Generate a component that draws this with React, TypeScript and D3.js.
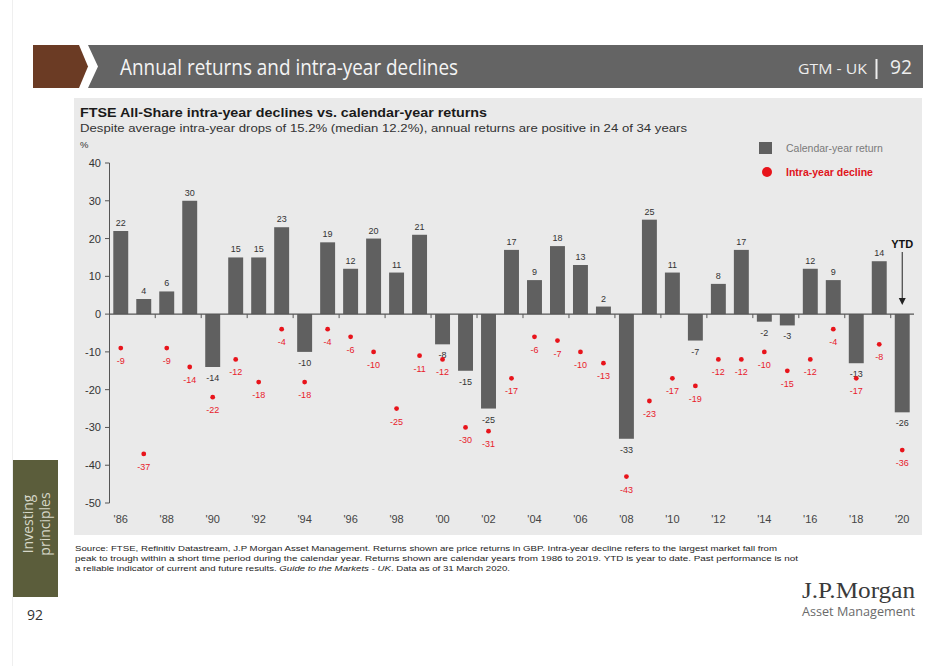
import React from "react";
import * as d3 from "d3";

const years: number[] = d3.range(1986, 2021);
const annualReturns: number[] = [22, 4, 6, 30, -14, 15, 15, 23, -10, 19, 12, 20, 11, 21, -8, -15, -25, 17, 9, 18, 13, 2, -33, 25, 11, -7, 8, 17, -2, -3, 12, 9, -13, 14, -26];
const intraYearDeclines: number[] = [-9, -37, -9, -14, -22, -12, -18, -4, -18, -4, -6, -10, -25, -11, -12, -30, -31, -17, -6, -7, -10, -13, -43, -23, -17, -19, -12, -12, -10, -15, -12, -4, -17, -8, -36];
const yTicks: number[] = [40, 30, 20, 10, 0, -10, -20, -30, -40, -50];
const xTickYears: number[] = d3.range(1986, 2021, 2);

const W = 939;
const H = 666;
const FONT = "'Liberation Sans', Arial, sans-serif";
const HEAD_FONT = "'Open Sans', 'Noto Sans', sans-serif";

export default function App() {
  const x = d3
    .scaleBand<number>()
    .domain(years)
    .range([111, 912])
    .paddingInner(0.35)
    .paddingOuter(0.1);
  const y = d3.scaleLinear().domain([-50, 40]).range([503, 163]);
  const bw = x.bandwidth();
  const cx = (yr: number) => (x(yr) as number) + bw / 2;
  const y0 = y(0);

  return (
    <div style={{ position: "absolute", left: 0, top: 0, width: W, height: H, background: "#fff" }}>
      <svg width={W} height={H} viewBox={`0 0 ${W} ${H}`} style={{ display: "block" }}>
        <rect x={0} y={0} width={W} height={H} fill="#ffffff" />
        <line x1={12.5} x2={12.5} y1={0} y2={H} stroke="#efefef" strokeWidth={1} />

        {/* Header */}
        <path d="M33,45 L79,45 L88,66.5 L79,88 L33,88 Z" fill="#6b3b24" />
        <path d="M88,45 L923,45 L923,88 L88,88 L98,66.5 Z" fill="#646464" />
        <text x={120} y={75} fill="#f4f4f4" fontFamily={HEAD_FONT} fontSize={21} textLength={338} lengthAdjust="spacingAndGlyphs">
          Annual returns and intra-year declines
        </text>
        <text x={798} y={74} fill="#eeeeee" fontFamily={HEAD_FONT} fontSize={15} fontWeight={500} textLength={69} lengthAdjust="spacingAndGlyphs">
          GTM - UK
        </text>
        <line x1={876.5} x2={876.5} y1={59} y2={79} stroke="#eeeeee" strokeWidth={2} />
        <text x={890} y={74} fill="#eeeeee" fontFamily={HEAD_FONT} fontSize={20} textLength={22} lengthAdjust="spacingAndGlyphs">
          92
        </text>

        {/* Panel */}
        <rect x={74} y={98} width={848} height={437} fill="#eaeaea" />
        <text x={80} y={117} fill="#1a1a1a" fontFamily={FONT} fontSize={13} fontWeight={700} textLength={407} lengthAdjust="spacingAndGlyphs">
          FTSE All-Share intra-year declines vs. calendar-year returns
        </text>
        <text x={80} y={132} fill="#333" fontFamily={FONT} fontSize={10} textLength={607} lengthAdjust="spacingAndGlyphs">
          Despite average intra-year drops of 15.2% (median 12.2%), annual returns are positive in 24 of 34 years
        </text>
        <text x={80} y={148} fill="#333" fontFamily={FONT} fontSize={9.5}>%</text>

        {/* Legend */}
        <rect x={759} y={142} width={13} height={12} fill="#606060" />
        <text x={786} y={152} fill="#7a7a7a" fontFamily={FONT} fontSize={10.5}>Calendar-year return</text>
        <circle cx={767} cy={172} r={5} fill="#e8141b" />
        <text x={786} y={176} fill="#e0141b" fontFamily={FONT} fontSize={10.5} fontWeight={700}>Intra-year decline</text>

        {/* Y axis */}
        <line x1={109.5} x2={109.5} y1={y(40)} y2={y(-50)} stroke="#555" strokeWidth={1} />
        {yTicks.map((t) => (
          <g key={t}>
            <line x1={105} x2={109.5} y1={y(t)} y2={y(t)} stroke="#555" strokeWidth={1} />
            <text x={101} y={y(t) + 4} textAnchor="end" fill="#333" fontFamily={FONT} fontSize={11}>
              {t}
            </text>
          </g>
        ))}

        {/* Bars */}
        {years.map((yr, i) => {
          const v = annualReturns[i];
          const top = Math.min(y(v), y0);
          const h = Math.abs(y(v) - y0);
          return <rect key={"b" + yr} x={x(yr)} y={top} width={bw} height={h} fill="#606060" />;
        })}

        {/* Zero line */}
        <line x1={109.5} x2={914} y1={y0} y2={y0} stroke="#555" strokeWidth={1.2} />
        {xTickYears.slice(1).map((yr) => {
          const tx = (x(yr) as number) - (x.step() - bw) / 2;
          return <line key={"t" + yr} x1={tx} x2={tx} y1={y0} y2={y0 + 4} stroke="#555" strokeWidth={1} />;
        })}

        {/* Bar labels */}
        {years.map((yr, i) => {
          const v = annualReturns[i];
          const ly = v >= 0 ? y(v) - 5 : y(v) + 14;
          return (
            <text key={"bl" + yr} x={cx(yr)} y={ly} textAnchor="middle" fill="#333" fontFamily={FONT} fontSize={9}>
              {v}
            </text>
          );
        })}

        {/* Dots */}
        {years.map((yr, i) => {
          const v = intraYearDeclines[i];
          return (
            <g key={"d" + yr}>
              <circle cx={cx(yr)} cy={y(v)} r={2.4} fill="#e8141b" />
              <text x={cx(yr)} y={y(v) + 16} textAnchor="middle" fill="#e8202a" fontFamily={FONT} fontSize={9}>
                {v}
              </text>
            </g>
          );
        })}

        {/* X labels */}
        {xTickYears.map((yr) => (
          <text key={"xl" + yr} x={cx(yr)} y={523} textAnchor="middle" fill="#444" fontFamily={FONT} fontSize={11}>
            {"'" + String(yr).slice(2)}
          </text>
        ))}

        {/* YTD marker */}
        <text x={cx(2020)} y={248} textAnchor="middle" fill="#111" fontFamily={FONT} fontSize={11} fontWeight={700}>
          YTD
        </text>
        <line x1={cx(2020)} x2={cx(2020)} y1={252} y2={299} stroke="#222" strokeWidth={1} />
        <path d={`M${cx(2020) - 3.5},298 L${cx(2020) + 3.5},298 L${cx(2020)},305 Z`} fill="#222" />

        {/* Footer */}
        <text x={75} y={551} fill="#222" fontFamily={FONT} fontSize={7.8} textLength={702} lengthAdjust="spacingAndGlyphs">
          Source: FTSE, Refinitiv Datastream, J.P Morgan Asset Management. Returns shown are price returns in GBP. Intra-year decline refers to the largest market fall from
        </text>
        <text x={75} y={561} fill="#222" fontFamily={FONT} fontSize={7.8} textLength={723} lengthAdjust="spacingAndGlyphs">
          peak to trough within a short time period during the calendar year. Returns shown are calendar years from 1986 to 2019. YTD is year to date. Past performance is not
        </text>
        <text x={75} y={571} fill="#222" fontFamily={FONT} fontSize={7.8} textLength={435} lengthAdjust="spacingAndGlyphs">
          a reliable indicator of current and future results. <tspan fontStyle="italic">Guide to the Markets - UK</tspan>. Data as of 31 March 2020.
        </text>

        {/* Logo */}
        <text x={915} y={598} textAnchor="end" fill="#3a3a3a" fontFamily="'Liberation Serif', 'DejaVu Serif', serif" fontSize={24} textLength={113} lengthAdjust="spacingAndGlyphs">
          J.P.Morgan
        </text>
        <text x={915} y={616} textAnchor="end" fill="#6a6a6a" fontFamily={HEAD_FONT} fontSize={13} textLength={113} lengthAdjust="spacingAndGlyphs">
          Asset Management
        </text>

        {/* Sidebar */}
        <rect x={13} y={460} width={45} height={137} fill="#5b5d3b" />
        <g transform="translate(0,524) rotate(-90)">
          <text x={0} y={33} textAnchor="middle" fill="#d6d7c8" fontFamily={HEAD_FONT} fontSize={14}>Investing</text>
          <text x={0} y={50} textAnchor="middle" fill="#d6d7c8" fontFamily={HEAD_FONT} fontSize={14}>principles</text>
        </g>
        <text x={35} y={620} textAnchor="middle" fill="#333" fontFamily={HEAD_FONT} fontSize={14}>92</text>
      </svg>
    </div>
  );
}
